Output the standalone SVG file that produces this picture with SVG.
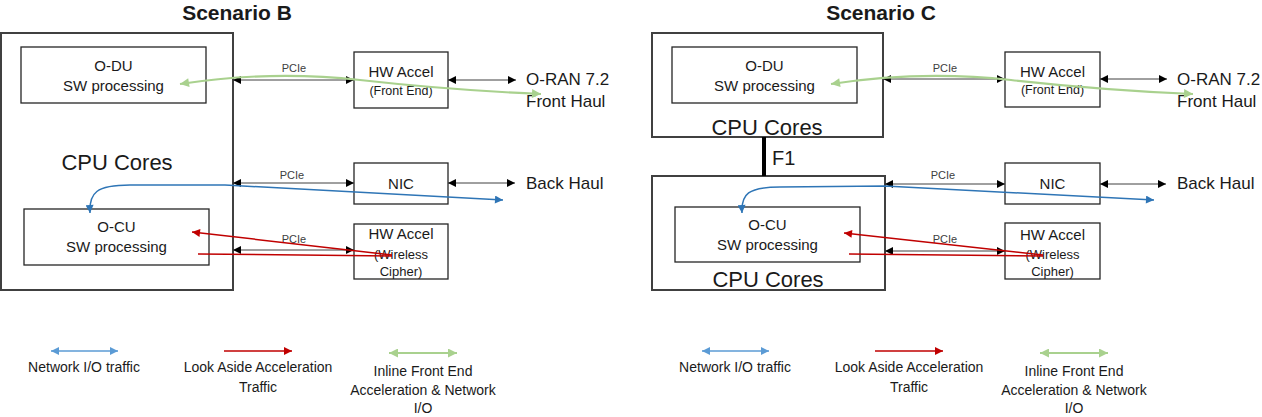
<svg xmlns="http://www.w3.org/2000/svg" width="1262" height="417" viewBox="0 0 1262 417">
<defs>
<style>
text{font-family:"Liberation Sans",Arial,sans-serif;fill:#1a1a1a;text-anchor:middle}
.title{font-size:21px;font-weight:bold}
.cpu{font-size:22px}
.sw{font-size:15px}
.sm{font-size:12.5px}
.wc{font-size:13px}
.pcie{font-size:11px;fill:#404040}
.ext{font-size:17px;text-anchor:start}
.f1{font-size:20px;text-anchor:start}
.leg{font-size:14px}
.outer{fill:#fff;stroke:#404040;stroke-width:2}
.box{fill:#fff;stroke:#262626;stroke-width:1.3}
.pl{fill:none;stroke:#404040;stroke-width:1;marker-start:url(#ak);marker-end:url(#ak)}
.grn{fill:none;stroke:#a9d18e;stroke-width:2.2;marker-start:url(#ag);marker-end:url(#ag)}
.blu{fill:none;stroke:#2e75b6;stroke-width:1.5;marker-start:url(#ab);marker-end:url(#ab)}
.lblu{fill:none;stroke:#5b9bd5;stroke-width:1.5;marker-start:url(#al);marker-end:url(#al)}
.red{fill:none;stroke:#c00000;stroke-width:1.5}
.rede{marker-end:url(#ar)}
</style>
<marker id="ak" viewBox="0 0 10 10" refX="10" refY="5" markerWidth="8" markerHeight="8" markerUnits="userSpaceOnUse" orient="auto-start-reverse"><path d="M0,0 L10,5 L0,10 z" fill="#000"/></marker>
<marker id="ag" viewBox="0 0 10 10" refX="10" refY="5" markerWidth="11" markerHeight="9" markerUnits="userSpaceOnUse" orient="auto-start-reverse"><path d="M0,0 L10,5 L0,10 z" fill="#a9d18e"/></marker>
<marker id="ab" viewBox="0 0 10 10" refX="10" refY="5" markerWidth="10" markerHeight="8" markerUnits="userSpaceOnUse" orient="auto-start-reverse"><path d="M0,0 L10,5 L0,10 z" fill="#2e75b6"/></marker>
<marker id="al" viewBox="0 0 10 10" refX="10" refY="5" markerWidth="10" markerHeight="8" markerUnits="userSpaceOnUse" orient="auto-start-reverse"><path d="M0,0 L10,5 L0,10 z" fill="#5b9bd5"/></marker>
<marker id="ar" viewBox="0 0 10 10" refX="10" refY="5" markerWidth="10" markerHeight="8" markerUnits="userSpaceOnUse" orient="auto-start-reverse"><path d="M0,0 L10,5 L0,10 z" fill="#c00000"/></marker>
</defs>

<!-- Scenario B -->
<text class="title" x="237" y="20">Scenario B</text>
<g id="b-cpu"><rect class="outer" x="1" y="33" width="232" height="257"/><text class="cpu" x="117" y="170">CPU Cores</text></g>
<g id="b-odu"><rect class="box" x="21" y="47" width="185" height="56"/><text class="sw" x="113.5" y="71">O-DU</text><text class="sw" x="113.5" y="91">SW processing</text></g>
<g id="b-ocu"><rect class="box" x="24" y="209" width="185" height="56"/><text class="sw" x="116.5" y="232">O-CU</text><text class="sw" x="116.5" y="252">SW processing</text></g>
<g id="b-hwfe"><rect class="box" x="354" y="52" width="94" height="56"/><text class="sw" x="401" y="77">HW Accel</text><text class="sm" x="401" y="95">(Front End)</text></g>
<g id="b-nic"><rect class="box" x="354" y="163" width="94" height="41"/><text class="sw" x="401" y="189">NIC</text></g>
<g id="b-hwwc"><rect class="box" x="354" y="224" width="94" height="55"/><text class="sw" x="401" y="239">HW Accel</text><text class="wc" x="401" y="259">(Wireless</text><text class="wc" x="401" y="276">Cipher)</text></g>
<g id="b-fh"><text class="ext" x="526" y="85">O-RAN 7.2</text><text class="ext" x="526" y="107">Front Haul</text></g>
<g id="b-bh"><text class="ext" x="526" y="189">Back Haul</text></g>

<!-- Scenario C -->
<text class="title" x="881" y="20">Scenario C</text>
<g id="c-cpu-du"><rect class="outer" x="652" y="33" width="231" height="104"/><text class="cpu" x="767" y="135">CPU Cores</text></g>
<g id="c-cpu-cu"><rect class="outer" x="652" y="176" width="233" height="114"/><text class="cpu" x="768" y="287">CPU Cores</text></g>
<g id="c-odu"><rect class="box" x="672" y="47" width="185" height="56"/><text class="sw" x="764.5" y="71">O-DU</text><text class="sw" x="764.5" y="91">SW processing</text></g>
<g id="c-ocu"><rect class="box" x="675" y="207" width="185" height="55"/><text class="sw" x="767.5" y="230">O-CU</text><text class="sw" x="767.5" y="250">SW processing</text></g>
<g id="c-hwfe"><rect class="box" x="1005" y="52" width="95" height="55"/><text class="sw" x="1052.5" y="77">HW Accel</text><text class="sm" x="1052.5" y="94">(Front End)</text></g>
<g id="c-nic"><rect class="box" x="1005" y="163" width="95" height="41"/><text class="sw" x="1052.5" y="189">NIC</text></g>
<g id="c-hwwc"><rect class="box" x="1005" y="223" width="95" height="56"/><text class="sw" x="1052.5" y="240">HW Accel</text><text class="wc" x="1052.5" y="259">(Wireless</text><text class="wc" x="1052.5" y="276">Cipher)</text></g>
<g id="c-fh"><text class="ext" x="1177" y="85">O-RAN 7.2</text><text class="ext" x="1177" y="107">Front Haul</text></g>
<g id="c-bh"><text class="ext" x="1177" y="189">Back Haul</text></g>

<!-- Legends -->
<g id="b-legend">
<path class="lblu" d="M51,351 L118,351"/>
<text class="leg" x="84" y="372">Network I/O traffic</text>
<path class="red rede" d="M224,351 L292,351"/>
<text class="leg" x="258" y="372">Look Aside Acceleration</text>
<text class="leg" x="258" y="392">Traffic</text>
<path class="grn" d="M389,353 L457,353"/>
<text class="leg" x="423" y="376">Inline Front End</text>
<text class="leg" x="423" y="395">Acceleration &amp; Network</text>
<text class="leg" x="423" y="413">I/O</text>
</g>
<g id="c-legend">
<path class="lblu" d="M702,351 L769,351"/>
<text class="leg" x="735" y="372">Network I/O traffic</text>
<path class="red rede" d="M875,351 L943,351"/>
<text class="leg" x="909" y="372">Look Aside Acceleration</text>
<text class="leg" x="909" y="392">Traffic</text>
<path class="grn" d="M1040,353 L1108,353"/>
<text class="leg" x="1074" y="376">Inline Front End</text>
<text class="leg" x="1074" y="395">Acceleration &amp; Network</text>
<text class="leg" x="1074" y="413">I/O</text>
</g>

<g id="connectors">
<!-- Scenario B -->
<path class="pl" d="M233,80 L354,80"/>
<text class="pcie" x="294" y="72">PCIe</text>
<path class="pl" d="M448,80 L516,80"/>
<path class="pl" d="M233,183 L354,183"/>
<text class="pcie" x="292" y="179">PCIe</text>
<path class="pl" d="M448,183 L515,183"/>
<path class="pl" d="M233,250 L354,250"/>
<text class="pcie" x="294" y="243">PCIe</text>
<path class="grn" d="M180,84 Q271,70 360,80 T541,94"/>
<path class="blu" d="M90,213 C89,193 96,185 130,185 L225,185 L503,200"/>
<path class="red rede" d="M392,255 L192,232"/>
<path class="red" d="M198,254 L392,256"/>
<!-- Scenario C -->
<path class="pl" d="M883,79 L1005,79"/>
<text class="pcie" x="945" y="72">PCIe</text>
<path class="pl" d="M1100,79 L1167,79"/>
<path class="pl" d="M885,184 L1005,184"/>
<text class="pcie" x="943" y="179">PCIe</text>
<path class="pl" d="M1100,184 L1166,184"/>
<path class="pl" d="M885,251 L1005,251"/>
<text class="pcie" x="945" y="243">PCIe</text>
<path class="grn" d="M831,84 Q921,70 1011,80 T1193,94"/>
<path class="blu" d="M742,213 C741,194 748,187 780,187 L885,186 L1154,200"/>
<path class="red rede" d="M1043,255 L844,233"/>
<path class="red" d="M849,254 L1043,256"/>
<line id="f1-link" x1="764" y1="137" x2="764" y2="176" stroke="#000" stroke-width="4"/>
<text class="f1" x="772" y="165">F1</text>
</g>
</svg>
